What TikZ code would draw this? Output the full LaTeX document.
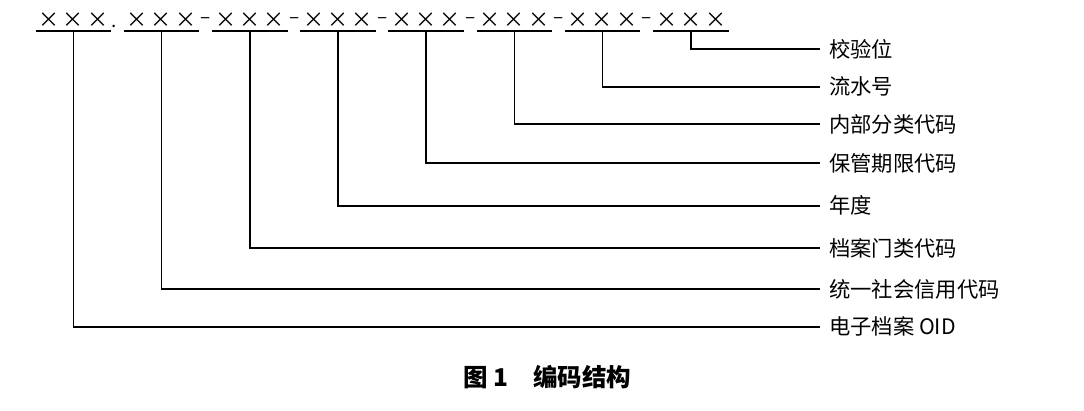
\documentclass[tikz,border=0pt]{standalone}
\usepackage{fontspec}
\setmainfont{Noto Sans CJK SC}
\usetikzlibrary{positioning}
\newcommand{\onex}{\makebox[24.5pt]{×}}
\newcommand{\xxx}{\onex\onex\onex}
\tikzset{grp/.style={inner sep=0pt, minimum width=75pt, text depth=3pt, font=\fontsize{21}{21}\selectfont, anchor=south},
	sepr/.style={inner sep=0pt, font=\fontsize{19}{19}\selectfont},
	lbl/.style={anchor=west, inner xsep=9pt, inner ysep=0pt, font=\fontsize{21.3}{21.3}\selectfont},
	uline/.style={line width=1.2pt},
	conn/.style={line width=1.7pt}}
\begin{document}
\begin{tikzpicture}[x=1pt,y=-1pt]
	\useasboundingbox (0,0) rectangle (1084,410);
	% code groups
	\node[grp] (g1) at (73.5,31) {\xxx};
	\node[grp] (g2) at (161.5,31) {\xxx};
	\node[grp] (g3) at (250,31) {\xxx};
	\node[grp] (g4) at (338,31) {\xxx};
	\node[grp] (g5) at (426,31) {\xxx};
	\node[grp] (g6) at (514.5,31) {\xxx};
	\node[grp] (g7) at (602.5,31) {\xxx};
	\node[grp] (g8) at (691,31) {\xxx};
	\foreach \g in {g1,g2,g3,g4,g5,g6,g7,g8}
		\draw[uline] (\g.south west) -- (\g.south east);
	% separators
	\node[sepr, anchor=base] (s1) at (114.5,27) {.};
	\foreach \a/\b in {g2/g3,g3/g4,g4/g5,g5/g6,g6/g7,g7/g8}
		\node[sepr, anchor=base] at ([xshift=6.5pt]\a.south east) [yshift=7.5pt] {–};
	% labels
	\node[lbl] (l8) at (820,49) {校验位};
	\node[lbl] (l7) at (820,86.7) {流水号};
	\node[lbl] (l6) at (820,124.3) {内部分类代码};
	\node[lbl] (l5) at (820,163.3) {保管期限代码};
	\node[lbl] (l4) at (820,205.7) {年度};
	\node[lbl] (l3) at (820,248) {档案门类代码};
	\node[lbl] (l2) at (820,289) {统一社会信用代码};
	\node[lbl] (l1) at (820,326.7) {电子档案 OID};
	\foreach \i in {1,...,8}
		\draw[conn] (g\i.south) |- (l\i.west);
	% caption
	\node[font=\fontsize{24.5}{24.5}\selectfont\bfseries] (cap) at (547.5,377) {图 1\quad 编码结构};
\end{tikzpicture}
\end{document}
